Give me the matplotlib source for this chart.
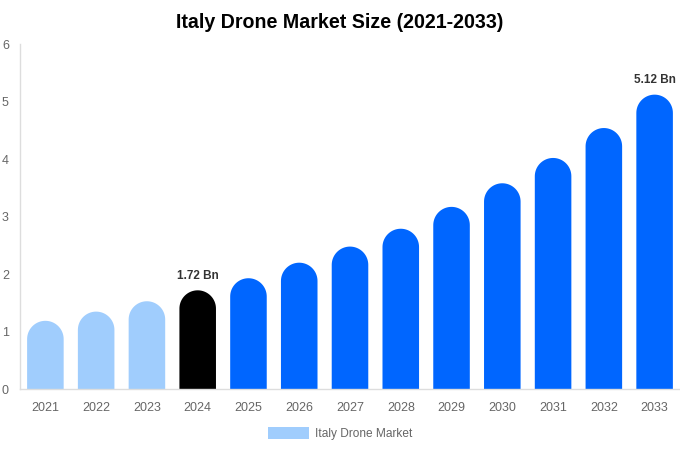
import matplotlib
matplotlib.use("Agg")
import numpy as np
import matplotlib.pyplot as plt
from matplotlib.patches import Patch, PathPatch
from matplotlib.path import Path

plt.rcParams['font.family'] = ['Liberation Sans', 'DejaVu Sans']

years = ["2021", "2022", "2023", "2024", "2025", "2026", "2027",
         "2028", "2029", "2030", "2031", "2032", "2033"]
values = [1.19, 1.35, 1.53, 1.72, 1.93, 2.20, 2.48, 2.79, 3.17, 3.58, 4.02, 4.54, 5.12]
colors = ["#a0cdfd"] * 3 + ["#000000"] + ["#0066ff"] * 9
labels = {3: "1.72 Bn", 12: "5.12 Bn"}
y_ticks = [0, 1, 2, 3, 4, 5, 6]
legend_label = "Italy Drone Market"
title = "Italy Drone Market Size (2021-2033)"

W, H = 680, 450
fig = plt.figure(figsize=(W / 100, H / 100), dpi=100)
left, right, bottom, top = 20 / W, 1.0, 1 - 389.3 / H, 1 - 44 / H
ax = fig.add_axes([left, bottom, right - left, top - bottom])

xlim = (-0.5, len(years) - 0.5)
ylim = (0, 6)
ax.set_xlim(*xlim)
ax.set_ylim(*ylim)

bw = 0.72
ax_w_px = (right - left) * W
ax_h_px = (top - bottom) * H
px_per_x = ax_w_px / (xlim[1] - xlim[0])
px_per_y = ax_h_px / (ylim[1] - ylim[0])
r_px = bw / 2 * px_per_x
ry = r_px / px_per_y
theta = np.linspace(0, np.pi, 40)

for i, (v, c) in enumerate(zip(values, colors)):
    rx = bw / 2
    base = v - ry
    verts = [(i - rx, 0), (i + rx, 0)]
    verts += [(i + rx * np.cos(t), base + ry * np.sin(t)) for t in theta]
    verts += [(i - rx, 0)]
    codes = [Path.MOVETO] + [Path.LINETO] * (len(verts) - 2) + [Path.CLOSEPOLY]
    ax.add_patch(PathPatch(Path(verts, codes), facecolor=c, edgecolor='none', zorder=2))
    if i in labels:
        ax.annotate(labels[i], (i, v), xytext=(0, 6), textcoords='offset points',
                    ha='center', va='bottom', fontsize=8.5, fontweight='bold',
                    color='#333333')

ax.set_xticks(range(len(years)))
ax.set_xticklabels(years)
ax.set_yticks(y_ticks)
ax.tick_params(axis='both', length=0, colors='#666666', labelsize=9)
ax.tick_params(axis='x', pad=9)
ax.tick_params(axis='y', pad=13)
for lab in ax.get_yticklabels():
    lab.set_horizontalalignment('left')

for s in ['top', 'right']:
    ax.spines[s].set_visible(False)
for s in ['left', 'bottom']:
    ax.spines[s].set_color('#dddddd')
    ax.spines[s].set_linewidth(1)

fig.text(0.5, 1 - 22 / H, title, ha='center', va='center', fontsize=14.1,
         fontweight='bold', color='#000000')

handle = Patch(facecolor="#a0cdfd", edgecolor='none')
fig.legend([handle], [legend_label], loc='center', bbox_to_anchor=(340 / W, 1 - 433.5 / H),
           frameon=False, fontsize=8.6, handlelength=3.4, handleheight=1.1,
           labelcolor='#666666', handletextpad=0.5)

fig.savefig("out.png", dpi=100)
